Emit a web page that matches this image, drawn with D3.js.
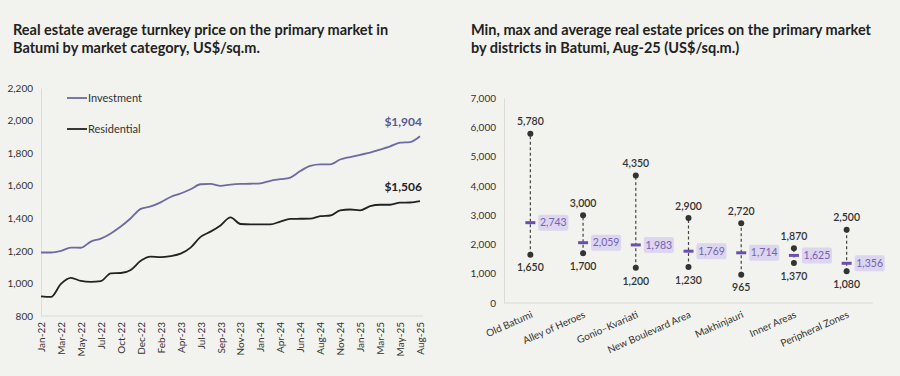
<!DOCTYPE html>
<html>
<head>
<meta charset="utf-8">
<script src="https://cdn.jsdelivr.net/npm/d3@7"></script>
<style>
  body { margin: 0; background: #f2f2ee; }
  svg { display: block; font-family: Lato, "Open Sans", sans-serif; }
</style>
</head>
<body>
<svg id="chart" width="900" height="376"></svg>
<script>
// left chart data
let months = ["Jan-22","Feb-22","Mar-22","Apr-22","May-22","Jun-22","Jul-22","Sep-22","Oct-22","Nov-22","Dec-22",
  "Jan-23","Feb-23","Mar-23","Apr-23","Jun-23","Jul-23","Aug-23","Sep-23","Oct-23","Nov-23","Dec-23",
  "Jan-24","Mar-24","Apr-24","May-24","Jun-24","Jul-24","Aug-24","Oct-24","Nov-24","Dec-24",
  "Jan-25","Feb-25","Mar-25","Apr-25","May-25","Jul-25","Aug-25"];
let investment = [1190,1190,1200,1220,1219,1257,1275,1307,1349,1400,1458,1473,1498,1531,1552,1578,1609,1611,1599,1607,
  1611,1612,1615,1630,1640,1650,1690,1722,1731,1731,1761,1776,1790,1803,1822,1842,1864,1868,1904];
let residential = [921,917,997,1034,1015,1009,1014,1062,1064,1083,1139,1164,1161,1168,1183,1220,1286,1318,1356,1405,
  1365,1362,1363,1362,1380,1396,1397,1398,1413,1417,1449,1454,1449,1474,1483,1483,1496,1497,1506];
let leftTicks = [800,1000,1200,1400,1600,1800,2000,2200];

// right chart data
let districts = ["Old Batumi","Alley of Heroes","Gonio–Kvariati","New Boulevard Area","Makhinjauri","Inner Areas","Peripheral Zones"];
let minPrice = [1650,1700,1200,1230,965,1370,1080];
let maxPrice = [5780,3000,4350,2900,2720,1870,2500];
let avgPrice = [2743,2059,1983,1769,1714,1625,1356];
let rightTicks = [0,1000,2000,3000,4000,5000,6000,7000];

let svg = d3.select("#chart");
let fmt = d3.format(",");

// titles
let titles = [
  {x: 13, lines: ["Real estate average turnkey price on the primary market in", "Batumi by market category, US$/sq.m."]},
  {x: 471, lines: ["Min, max and average real estate prices on the primary market", "by districts in Batumi, Aug-25 (US$/sq.m.)"]}
];
titles.forEach(t => {
  svg.append("text")
     .attr("x", t.x).attr("y", 35)
     .attr("font-size", 14.5).attr("font-weight", 700).attr("fill", "#222")
     .selectAll("tspan").data(t.lines).enter()
     .append("tspan")
     .attr("x", t.x)
     .attr("dy", (d, i) => i ? 18 : 0)
     .text(d => d);
});

// ---- left: line chart ----
let x = d3.scalePoint().domain(months).range([41, 420]);
let y = d3.scaleLinear().domain([800, 2200]).range([316, 88]);

let yAxis = svg.append("g")
  .attr("transform", "translate(41,0)")
  .call(d3.axisLeft(y).tickValues(leftTicks).tickSize(0).tickPadding(8).tickFormat(fmt));
yAxis.select(".domain").attr("stroke", "#dcdcd6");
yAxis.selectAll("text").attr("font-size", 10).attr("fill", "#333").attr("font-family", "Lato");

let xAxis = svg.append("g")
  .attr("transform", "translate(0,316)")
  .call(d3.axisBottom(x).tickValues(months.filter((d, i) => i % 2 == 0)).tickSize(0).tickPadding(0));
xAxis.select(".domain").attr("stroke", "#dcdcd6").attr("d", "M41,0H423");
xAxis.selectAll("text")
  .attr("font-size", 10).attr("fill", "#333").attr("font-family", "Lato")
  .attr("text-anchor", "end")
  .attr("transform", "rotate(-90)")
  .attr("x", -6).attr("y", 0).attr("dy", "0.35em");

let line = d3.line()
  .x((d, i) => x(months[i]))
  .y(d => y(d))
  .curve(d3.curveMonotoneX);

let series = [
  {name: "Investment", values: investment, color: "#6d6aa3", label: "#5d5993", ly: 98},
  {name: "Residential", values: residential, color: "#222", label: "#222", ly: 129}
];

series.forEach(s => {
  svg.append("path")
     .attr("d", line(s.values))
     .attr("fill", "none")
     .attr("stroke", s.color)
     .attr("stroke-width", 1.8);

  svg.append("line")
     .attr("x1", 67).attr("x2", 87).attr("y1", s.ly).attr("y2", s.ly)
     .attr("stroke", s.color).attr("stroke-width", 1.8);
  svg.append("text")
     .attr("x", 88).attr("y", s.ly).attr("dy", "0.35em")
     .attr("font-size", 11).attr("fill", "#333")
     .text(s.name);

  let last = s.values[s.values.length - 1];
  svg.append("text")
     .attr("x", 422).attr("y", y(last) - 10)
     .attr("text-anchor", "end")
     .attr("font-size", 12).attr("font-weight", 700).attr("fill", s.label)
     .text("$" + fmt(last));
});

// ---- right: min / max / average ----
let xb = d3.scaleBand().domain(districts).range([504, 873]);
let yr = d3.scaleLinear().domain([0, 7000]).range([303, 98]);

let yrAxis = svg.append("g")
  .attr("transform", "translate(504,0)")
  .call(d3.axisLeft(yr).tickValues(rightTicks).tickSize(0).tickPadding(8).tickFormat(fmt));
yrAxis.select(".domain").attr("stroke", "#dcdcd6");
yrAxis.selectAll("text").attr("font-size", 10).attr("fill", "#333").attr("font-family", "Lato");

let xrAxis = svg.append("g")
  .attr("transform", "translate(0,303)")
  .call(d3.axisBottom(xb).tickSize(0).tickPadding(0));
xrAxis.select(".domain").attr("stroke", "#dcdcd6").attr("d", "M504,0H873");
xrAxis.selectAll("text")
  .attr("font-size", 10).attr("fill", "#333").attr("font-family", "Lato")
  .attr("text-anchor", "end")
  .attr("y", 0).attr("dy", 0)
  .attr("transform", "translate(3,14) rotate(-24)");

let cx = d => xb(d) + xb.bandwidth() / 2;

let groups = svg.selectAll(".district")
  .data(districts)
  .enter()
  .append("g")
  .attr("class", "district");

groups.append("line")
  .attr("x1", cx).attr("x2", cx)
  .attr("y1", (d, i) => yr(minPrice[i]))
  .attr("y2", (d, i) => yr(maxPrice[i]))
  .attr("stroke", "#444").attr("stroke-width", 1.2)
  .attr("stroke-dasharray", "3,2.5");

groups.append("circle")
  .attr("cx", cx).attr("cy", (d, i) => yr(maxPrice[i])).attr("r", 3)
  .attr("fill", "#333");
groups.append("circle")
  .attr("cx", cx).attr("cy", (d, i) => yr(minPrice[i])).attr("r", 3)
  .attr("fill", "#333");

groups.append("text")
  .attr("x", cx).attr("y", (d, i) => yr(maxPrice[i]) - 12)
  .attr("dy", "0.35em").attr("text-anchor", "middle")
  .attr("font-size", 10.5).attr("font-weight", 600).attr("fill", "#333")
  .text((d, i) => fmt(maxPrice[i]));
groups.append("text")
  .attr("x", cx).attr("y", (d, i) => yr(minPrice[i]) + 13)
  .attr("dy", "0.35em").attr("text-anchor", "middle")
  .attr("font-size", 10.5).attr("font-weight", 600).attr("fill", "#333")
  .text((d, i) => fmt(minPrice[i]));

groups.append("line")
  .attr("x1", d => cx(d) - 5).attr("x2", d => cx(d) + 5)
  .attr("y1", (d, i) => yr(avgPrice[i])).attr("y2", (d, i) => yr(avgPrice[i]))
  .attr("stroke", "#6a4fb0").attr("stroke-width", 3);

groups.append("rect")
  .attr("x", d => cx(d) + 8).attr("y", (d, i) => yr(avgPrice[i]) - 8)
  .attr("width", 30).attr("height", 16).attr("rx", 2)
  .attr("fill", "#dcd6ee");
groups.append("text")
  .attr("x", d => cx(d) + 23).attr("y", (d, i) => yr(avgPrice[i]))
  .attr("dy", "0.35em").attr("text-anchor", "middle")
  .attr("font-size", 10.5).attr("fill", "#7462b5")
  .text((d, i) => fmt(avgPrice[i]));
</script>
</body>
</html>
